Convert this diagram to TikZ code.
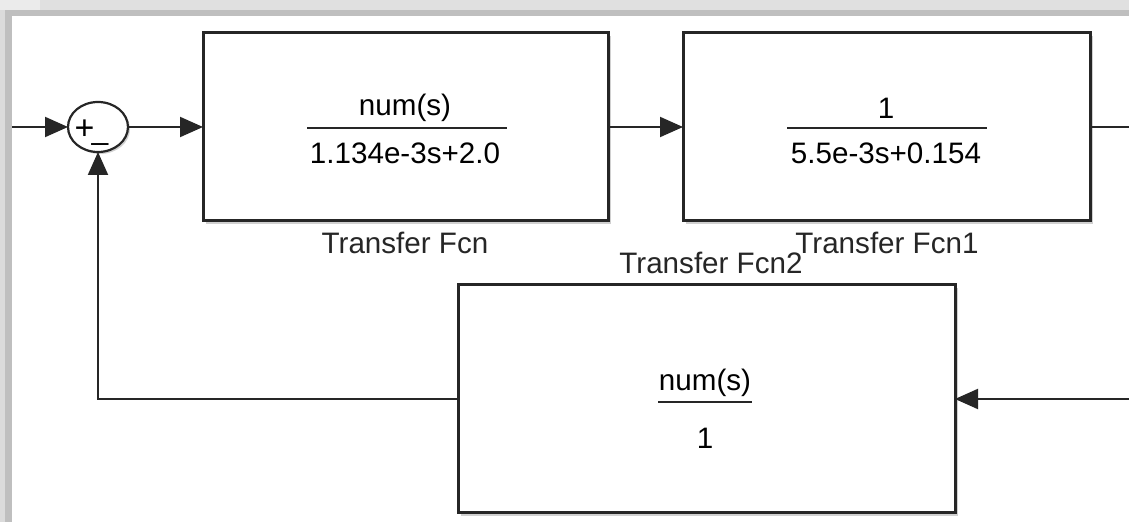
\documentclass[tikz,border=0pt]{standalone}
\usepackage{fontspec}
\setmainfont{Liberation Sans}
\usetikzlibrary{arrows.meta,shapes.geometric,shadows}
\tikzset{
  blk/.style={draw=black!85, line width=1.5pt, fill=white, rectangle, inner sep=0pt, outer sep=0pt,
     drop shadow={opacity=0.3, shadow xshift=1.3pt, shadow yshift=-1.3pt, fill=black!60}},
  sumnode/.style={draw=black!85, line width=1.1pt, fill=white, ellipse, inner sep=0pt, outer sep=0pt,
     minimum width=30pt, minimum height=25pt,
     drop shadow={opacity=0.3, shadow xshift=1pt, shadow yshift=-1pt, fill=black!60}},
  conn/.style={draw=black!85, line width=1pt},
  arr/.style={conn, -{Triangle[length=11.5pt,width=10pt]}},
  txt/.style={inner sep=0pt, font=\fontsize{14.8}{17}\selectfont},
  lbl/.style={inner sep=0pt, font=\fontsize{14.8}{17}\selectfont, text=black!85},
  sgn/.style={inner sep=0pt, anchor=base, font=\fontsize{17}{19}\selectfont},
  bar/.style={draw=black!85, line width=1.1pt},
}
\begin{document}
\begin{tikzpicture}[x=0.5pt,y=-0.5pt]
\useasboundingbox (0,0) rectangle (1129,522);
\fill[white] (0,0) rectangle (1129,522);
% frame
\fill[black!12] (0,0) rectangle (1129,10);
\fill[black!25] (12,10) rectangle (1129,16);
\fill[black!14] (0,0) rectangle (5,522);
\fill[black!25] (5,10) rectangle (12,522);
\fill[black!8] (0,0) rectangle (40,10);
% blocks
\node[blk, minimum width=202.5pt, minimum height=94pt] (b1) at (405.5,127) {};
\node[blk, minimum width=203.5pt, minimum height=94pt] (b2) at (886.5,127) {};
\node[blk, minimum width=248.5pt, minimum height=114pt] (b3) at (706.5,399) {};
\node[sumnode] (sum) at (98,127) {};
\node[sgn] (plus) at (84.5,139.5) {+};
\node[sgn, font=\fontsize{15}{17}\selectfont] (minus) at (100,140) {\symbol{95}};
% fractions
\node[txt] (n1) at (405,108) {num(s)};
\node[txt] (d1) at (405,153) {1.134e-3s+2.0};
\draw[bar] (307,128) -- (507,128);
\node[txt] (n2) at (886,108) {1};
\node[txt] (d2) at (886,153) {5.5e-3s+0.154};
\draw[bar] (787,128) -- (987,128);
\node[txt] (n3) at (705,383) {num(s)};
\node[txt] (d3) at (705,438) {1};
\draw[bar] (658,402) -- (752,402);
% labels
\node[lbl] (l1) at (405,243) {Transfer Fcn};
\node[lbl] (l2) at (887,243) {Transfer Fcn1};
\node[lbl] (l3) at (711,263) {Transfer Fcn2};
% connectors
\coordinate (in) at (12,127);
\coordinate (out) at (1129,127);
\coordinate (fbin) at (1129,399);
\draw[arr] (in) -- (sum.west);
\draw[arr] (sum.east) -- (b1.west);
\draw[arr] (b1.east) -- (b2.west);
\draw[conn] (b2.east) -- (out);
\draw[arr] (fbin) -- (b3.east);
\draw[arr] (b3.west) -| (sum.south);
\end{tikzpicture}
\end{document}
